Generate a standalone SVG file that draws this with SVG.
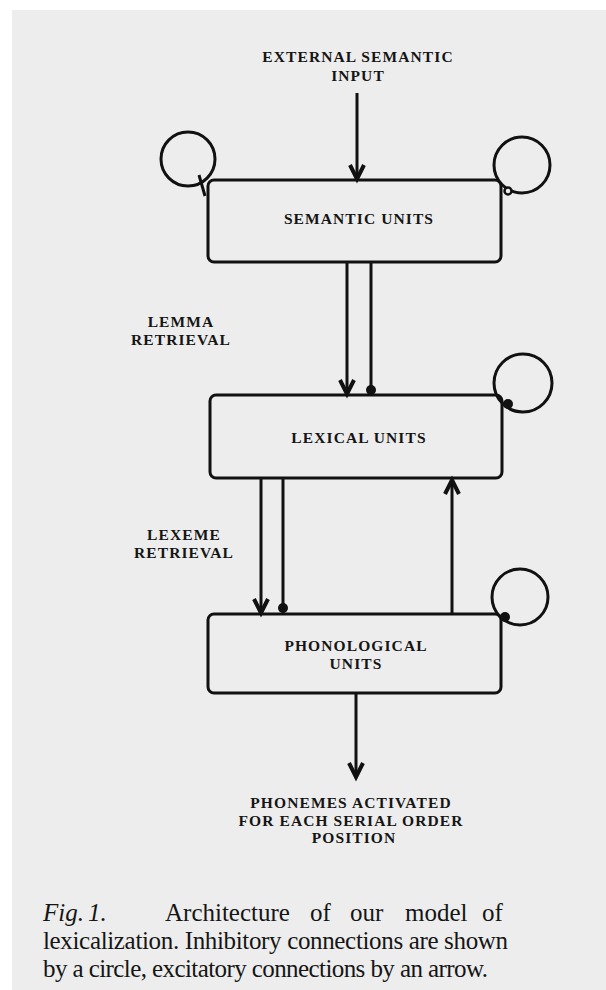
<svg xmlns="http://www.w3.org/2000/svg" width="606" height="990" viewBox="0 0 606 990">
<defs>
<style>
.box{fill:none;stroke:#111;stroke-width:3}
.ln{fill:none;stroke:#111;stroke-width:3}
.hd{fill:none;stroke:#111;stroke-width:4;stroke-linejoin:miter}
.dot{fill:#111}
.lbl{font-family:"Liberation Serif","Times New Roman",serif;font-weight:bold;font-size:15.5px;letter-spacing:1.1px;fill:#151515;text-anchor:middle}
.cap{font-family:"Liberation Serif","Times New Roman",serif;font-size:25px;fill:#151515}
</style>
</defs>
<rect x="0" y="0" width="606" height="990" fill="#ffffff"/>
<rect x="12" y="10" width="594" height="980" fill="#ededed"/>

<g id="external-input">
<text class="lbl" x="358" y="62">EXTERNAL SEMANTIC</text>
<text class="lbl" x="358" y="81">INPUT</text>
</g>

<g id="semantic-units">
<rect class="box" x="208" y="180" width="293" height="82" rx="6"/>
<text class="lbl" x="359" y="224">SEMANTIC UNITS</text>
<circle class="ln" cx="188" cy="159" r="27"/>
<line class="ln" x1="199" y1="175" x2="205" y2="196" stroke-width="2.5"/>
<circle class="ln" cx="522" cy="165" r="28"/>
<circle cx="508" cy="191" r="3.5" fill="#ededed" stroke="#111" stroke-width="2.5"/>
</g>

<g id="lexical-units">
<rect class="box" x="210" y="395" width="292" height="83" rx="6"/>
<text class="lbl" x="359" y="443">LEXICAL UNITS</text>
<circle class="ln" cx="523" cy="383" r="29"/>
<circle class="dot" cx="508" cy="404" r="5"/>
</g>

<g id="phonological-units">
<rect class="box" x="208" y="614" width="293" height="79" rx="6"/>
<text class="lbl" x="356" y="651">PHONOLOGICAL</text>
<text class="lbl" x="356" y="669">UNITS</text>
<circle class="ln" cx="520" cy="597" r="28"/>
<circle class="dot" cx="505" cy="617" r="5"/>
</g>

<g id="output">
<text class="lbl" x="351" y="808">PHONEMES ACTIVATED</text>
<text class="lbl" x="351" y="825.5">FOR EACH SERIAL ORDER</text>
<text class="lbl" x="354" y="843">POSITION</text>
</g>

<g id="stage-labels">
<text class="lbl" x="181" y="327">LEMMA</text>
<text class="lbl" x="181" y="345">RETRIEVAL</text>
<text class="lbl" x="184" y="540">LEXEME</text>
<text class="lbl" x="184" y="558">RETRIEVAL</text>
</g>

<g id="connectors">
<line class="ln" x1="357" y1="93" x2="357" y2="178"/>
<path class="hd" d="M350,165 L357,179 L364,165"/>

<line class="ln" x1="347" y1="263" x2="347" y2="393"/>
<path class="hd" d="M340,380 L347,394 L354,380"/>
<line class="ln" x1="371" y1="263" x2="371" y2="394"/>
<circle class="dot" cx="371" cy="390" r="5"/>

<line class="ln" x1="261" y1="479" x2="261" y2="612"/>
<path class="hd" d="M254,599 L261,613 L268,599"/>
<line class="ln" x1="283" y1="479" x2="283" y2="613"/>
<circle class="dot" cx="283" cy="608" r="5"/>

<line class="ln" x1="452" y1="613" x2="452" y2="481"/>
<path class="hd" d="M445,494 L452,480 L459,494"/>

<line class="ln" x1="356" y1="694" x2="356" y2="776"/>
<path class="hd" d="M349,763 L356,777 L363,763"/>
</g>

<g id="caption">
<text class="cap" x="43" y="921"><tspan font-style="italic">Fig.</tspan></text>
<text class="cap" x="88" y="921"><tspan font-style="italic">1.</tspan></text>
<text class="cap" x="165" y="921">Architecture</text>
<text class="cap" x="310" y="921">of</text>
<text class="cap" x="350" y="921">our</text>
<text class="cap" x="405" y="921">model</text>
<text class="cap" x="482" y="921">of</text>
<text class="cap" x="43" y="949" textLength="465" lengthAdjust="spacing">lexicalization.  Inhibitory connections are shown</text>
<text class="cap" x="43" y="977" textLength="445" lengthAdjust="spacing">by a circle, excitatory connections by an arrow.</text>
</g>
</svg>
